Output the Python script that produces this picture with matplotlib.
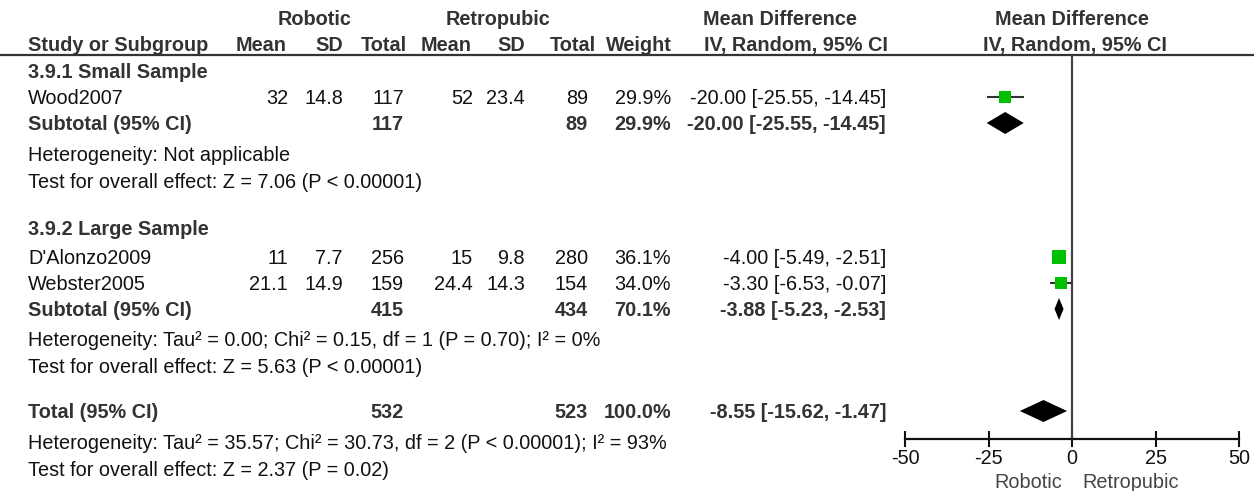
import numpy as np
import matplotlib
matplotlib.use("Agg")
from matplotlib import pyplot as plt
from matplotlib import transforms

plt.rcParams['font.family'] = ['Liberation Sans', 'DejaVu Sans']

studies = ["Wood2007", "D'Alonzo2009", "Webster2005"]
rob_mean = [32, 11, 21.1]
rob_sd = [14.8, 7.7, 14.9]
rob_n = [117, 256, 159]
ret_mean = [52, 15, 24.4]
ret_sd = [23.4, 9.8, 14.3]
ret_n = [89, 280, 154]
weight = [29.9, 36.1, 34.0]
md = [-20.00, -4.00, -3.30]
md_lo = [-25.55, -5.49, -6.53]
md_hi = [-14.45, -2.51, -0.07]

subgroups = ["3.9.1 Small Sample", "3.9.2 Large Sample"]
sub_rob_n = [117, 415]
sub_ret_n = [89, 434]
sub_weight = [29.9, 70.1]
sub_md = [-20.00, -3.88]
sub_lo = [-25.55, -5.23]
sub_hi = [-14.45, -2.53]
sub_het = ["Heterogeneity: Not applicable",
           "Heterogeneity: Tau\u00b2 = 0.00; Chi\u00b2 = 0.15, df = 1 (P = 0.70); I\u00b2 = 0%"]
sub_test = ["Test for overall effect: Z = 7.06 (P < 0.00001)",
            "Test for overall effect: Z = 5.63 (P < 0.00001)"]

total_rob_n = 532
total_ret_n = 523
total_weight = 100.0
total_md = -8.55
total_lo = -15.62
total_hi = -1.47
total_het = "Heterogeneity: Tau\u00b2 = 35.57; Chi\u00b2 = 30.73, df = 2 (P < 0.00001); I\u00b2 = 93%"
total_test = "Test for overall effect: Z = 2.37 (P = 0.02)"

xticks = [-50, -25, 0, 25, 50]
favours = ["Robotic", "Retropubic"]

# layout (pixels from top)
W, H = 1254, 491
study_y = [97, 257, 283]
head_y = [71, 228]
sub_y = [123, 309]
het_y = [154, 339]
test_y = [181, 366]
total_y = 411
total_het_y = 442
total_test_y = 469
axis_y = 439
line_y = 55
LEFT = 28
BL = 7
cols = [288, 343, 404, 473, 525, 588, 671, 886]

FS = 14.3
DARK = '#333333'
TXT = '#111111'
GREEN = '#00c000'

fig = plt.figure(figsize=(W / 100, H / 100), dpi=100)
ax = fig.add_axes([0, 0, 1, 1])
ax.set_xlim(0, W)
ax.set_ylim(H, 0)
ax.axis('off')


def txt(x, y, s, bold=False, ha='left', color=None):
    ax.text(x, y + BL, s, ha=ha, va='baseline', fontsize=FS,
            fontweight='bold' if bold else 'normal',
            color=color or (DARK if bold else TXT))


# headers
txt(315, 18, "Robotic", bold=True, ha='center')
txt(498, 18, "Retropubic", bold=True, ha='center')
txt(780, 18, "Mean Difference", bold=True, ha='center')
txt(1072, 18, "Mean Difference", bold=True, ha='center')
txt(LEFT, 44, "Study or Subgroup", bold=True)
hdr = ["Mean", "SD", "Total", "Mean", "SD", "Total", "Weight", "IV, Random, 95% CI"]
hdr_x = [287, 343, 407, 472, 525, 596, 672, 888]
for h, x in zip(hdr, hdr_x):
    txt(x, 44, h, bold=True, ha='right')
txt(1075, 44, "IV, Random, 95% CI", bold=True, ha='center')
ax.axhline(line_y, color=DARK, lw=1.6)


def ci_str(m, lo, hi):
    return "{:.2f} [{:.2f}, {:.2f}]".format(m, lo, hi)


for i, name in enumerate(studies):
    y = study_y[i]
    txt(LEFT, y, name)
    vals = ["{:g}".format(rob_mean[i]), "{:g}".format(rob_sd[i]), str(rob_n[i]),
            "{:g}".format(ret_mean[i]), "{:g}".format(ret_sd[i]), str(ret_n[i]),
            "{:.1f}%".format(weight[i]), ci_str(md[i], md_lo[i], md_hi[i])]
    for v, x in zip(vals, cols):
        txt(x, y, v, ha='right')

for g, name in enumerate(subgroups):
    txt(LEFT, head_y[g], name, bold=True)
    y = sub_y[g]
    txt(LEFT, y, "Subtotal (95% CI)", bold=True)
    txt(cols[2], y, str(sub_rob_n[g]), bold=True, ha='right')
    txt(cols[5], y, str(sub_ret_n[g]), bold=True, ha='right')
    txt(cols[6], y, "{:.1f}%".format(sub_weight[g]), bold=True, ha='right')
    txt(cols[7], y, ci_str(sub_md[g], sub_lo[g], sub_hi[g]), bold=True, ha='right')
    txt(LEFT, het_y[g], sub_het[g])
    txt(LEFT, test_y[g], sub_test[g])

txt(LEFT, total_y, "Total (95% CI)", bold=True)
txt(cols[2], total_y, str(total_rob_n), bold=True, ha='right')
txt(cols[5], total_y, str(total_ret_n), bold=True, ha='right')
txt(cols[6], total_y, "{:.1f}%".format(total_weight), bold=True, ha='right')
txt(cols[7], total_y, ci_str(total_md, total_lo, total_hi), bold=True, ha='right')
txt(LEFT, total_het_y, total_het)
txt(LEFT, total_test_y, total_test)

# forest panel
fx0, fx1 = 905, 1239
fa = fig.add_axes([fx0 / W, (H - axis_y) / H, (fx1 - fx0) / W, axis_y / H])
fa.set_xlim(xticks[0], xticks[-1])
fa.set_ylim(axis_y, 0)
fa.patch.set_alpha(0)
for s in ['top', 'left', 'right']:
    fa.spines[s].set_visible(False)
fa.spines['bottom'].set_linewidth(1.6)
fa.spines['bottom'].set_color('#111111')
fa.set_yticks([])
fa.set_xticks(xticks)
fa.set_xticklabels([str(t) for t in xticks])
fa.tick_params(axis='x', direction='inout', length=11, width=1.5, pad=2,
               labelsize=FS, colors='#111111')

fa.vlines(0, line_y, axis_y, color='#444444', lw=1.6, clip_on=False)

for i in range(len(studies)):
    fa.hlines(study_y[i], md_lo[i], md_hi[i], color=DARK, lw=1.5, zorder=2)
    side = 12 * np.sqrt(weight[i] / weight[0]) * 72 / 100
    fa.scatter([md[i]], [study_y[i]], s=side ** 2, marker='s', color=GREEN,
               linewidths=0, zorder=3)

dh = 11


def diamond(m, lo, hi, y):
    fa.fill([lo, m, hi, m], [y, y - dh, y, y + dh], color='black', lw=0, zorder=3)


for g in range(len(subgroups)):
    diamond(sub_md[g], sub_lo[g], sub_hi[g], sub_y[g])
diamond(total_md, total_lo, total_hi, total_y)

tl = transforms.offset_copy(fa.get_xaxis_transform(), fig=fig, x=-10, y=0, units='dots')
tr = transforms.offset_copy(fa.get_xaxis_transform(), fig=fig, x=10, y=0, units='dots')
fa.text(0, -49 / axis_y, favours[0], transform=tl, ha='right', va='baseline',
        fontsize=FS, color='#444444')
fa.text(0, -49 / axis_y, favours[1], transform=tr, ha='left', va='baseline',
        fontsize=FS, color='#444444')

fig.savefig("out.png", dpi=100)
